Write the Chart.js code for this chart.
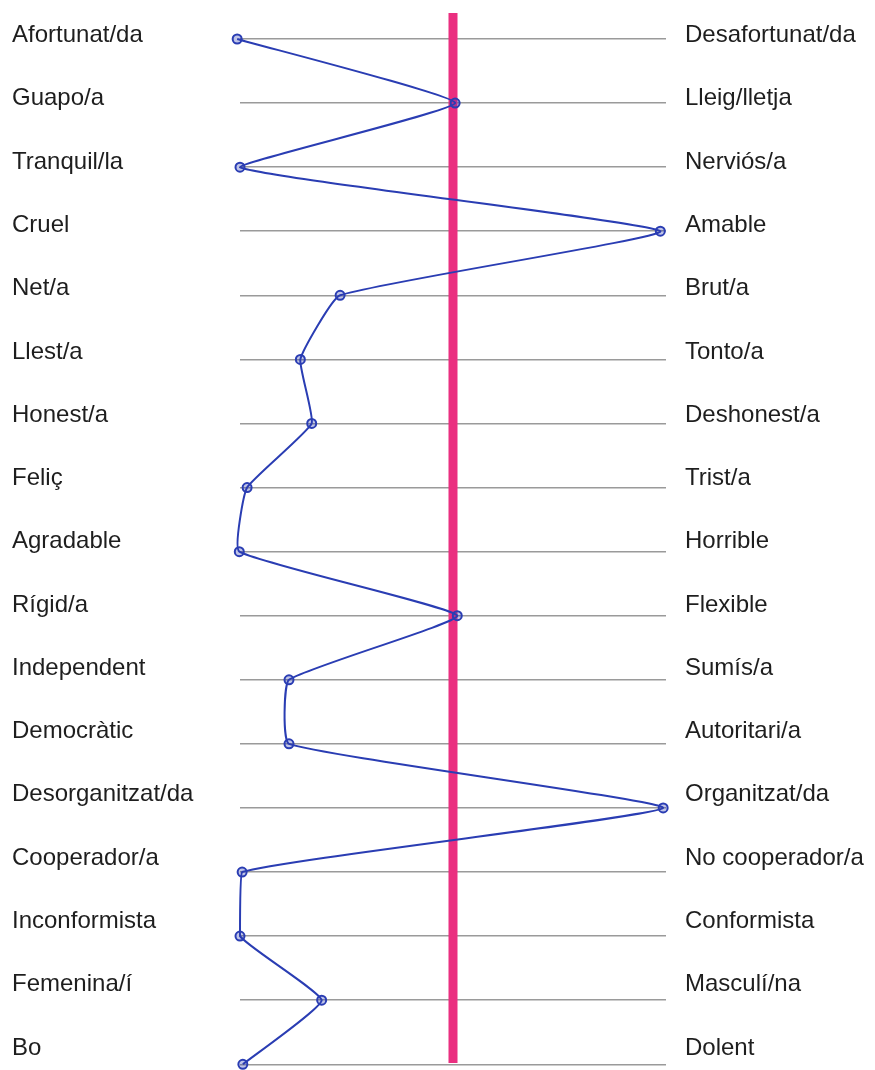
<!DOCTYPE html>
<html>
<head>
<meta charset="utf-8">
<script src="https://cdn.jsdelivr.net/npm/chart.js@4.4.1/dist/chart.umd.min.js"></script>
<style>
  html, body { margin: 0; padding: 0; background: #ffffff; }
  #wrap { width: 875px; height: 1070px; position: relative; }
</style>
</head>
<body>
<div id="wrap"><canvas id="c"></canvas></div>
<script>
// ---- data ----
const leftLabels = ["Afortunat/da","Guapo/a","Tranquil/la","Cruel","Net/a","Llest/a","Honest/a","Feliç","Agradable","Rígid/a","Independent","Democràtic","Desorganitzat/da","Cooperador/a","Inconformista","Femenina/í","Bo"];
const rightLabels = ["Desafortunat/da","Lleig/lletja","Nerviós/a","Amable","Brut/a","Tonto/a","Deshonest/a","Trist/a","Horrible","Flexible","Sumís/a","Autoritari/a","Organitzat/da","No cooperador/a","Conformista","Masculí/na","Dolent"];
// position on a 1 (left adjective) .. 7 (right adjective) scale
const scores = [0.96, 4.03, 1.0, 6.92, 2.41, 1.85, 2.01, 1.1, 0.99, 4.06, 1.69, 1.69, 6.96, 1.03, 1.0, 2.15, 1.04];
const scaleMin = 1, scaleMax = 7, scaleMid = 4;

const rowIdx = leftLabels.map((_, i) => i);
const intTicks = (scale) => { scale.ticks = rowIdx.map(v => ({ value: v })); };

const blue = "#2a3db3";
const pink = "#ea2f80";
const labelFont = { family: "'Liberation Sans', Arial, sans-serif", size: 24, lineHeight: 0.3 };

new Chart(document.getElementById("c"), {
  type: "scatter",
  data: {
    datasets: [
      {
        label: "respostes",
        data: scores.map((s, i) => ({ x: s, y: i })),
        showLine: true,
        borderColor: blue,
        borderWidth: 2,
        tension: 0.12,
        pointRadius: 4.5,
        pointBorderWidth: 2,
        pointBorderColor: blue,
        pointBackgroundColor: "rgba(42,61,179,0.3)",
        clip: false,
        order: 0,
        yAxisID: "y"
      },
      {
        label: "centre",
        data: [{ x: scaleMid, y: -0.4057 }, { x: scaleMid, y: 15.98 }],
        showLine: true,
        borderColor: pink,
        borderWidth: 9,
        borderCapStyle: "butt",
        pointRadius: 0,
        clip: false,
        order: 1,
        yAxisID: "y"
      }
    ]
  },
  options: {
    responsive: true,
    maintainAspectRatio: false,
    animation: false,
    events: [],
    layout: { padding: { top: 13, bottom: 4, left: 12, right: 0 } },
    plugins: { legend: { display: false }, tooltip: { enabled: false } },
    scales: {
      x: {
        type: "linear", min: scaleMin, max: scaleMax, display: false
      },
      yl: {
        type: "linear", position: "left", reverse: true,
        min: -0.3556, max: 16.245,
        afterBuildTicks: intTicks,
        afterFit: (s) => { s.width = 228; },
        grid: { display: false, drawTicks: false },
        border: { display: false },
        ticks: {
          padding: 0,
          crossAlign: "far",
          color: "#1e1e1e",
          font: labelFont,
          callback: (v) => leftLabels[v]
        }
      },
      y: {
        type: "linear", position: "left", reverse: true,
        min: -0.4057, max: 15.988,
        afterBuildTicks: intTicks,
        afterFit: (s) => { s.width = 0; },
        grid: { color: "#9a9a9a", lineWidth: 1.5, drawTicks: false },
        border: { display: false },
        ticks: { display: false }
      },
      yr: {
        type: "linear", position: "right", reverse: true,
        min: -0.3556, max: 16.245,
        afterBuildTicks: intTicks,
        afterFit: (s) => { s.width = 209; },
        grid: { display: false, drawTicks: true, tickLength: 19 },
        border: { display: false },
        ticks: {
          padding: 0,
          crossAlign: "near",
          color: "#1e1e1e",
          font: labelFont,
          callback: (v) => rightLabels[v]
        }
      }
    }
  }
});
</script>
</body>
</html>
